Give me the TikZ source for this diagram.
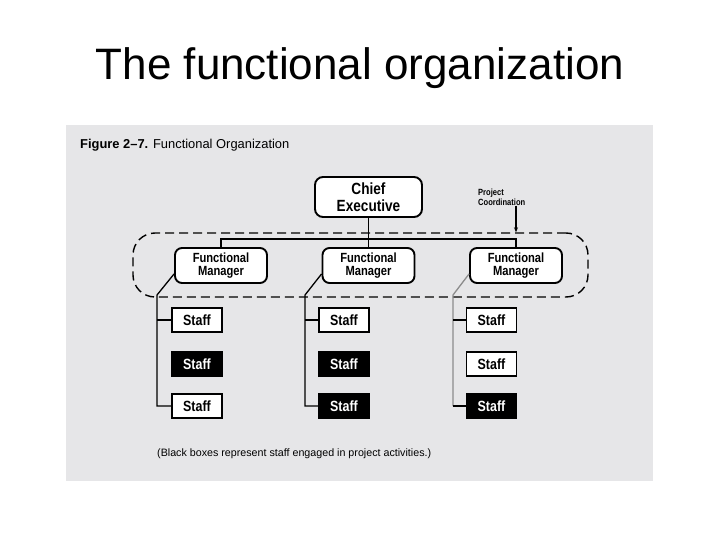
\documentclass[tikz,border=0pt]{standalone}
\usepackage{fontspec}
\setmainfont{Liberation Sans}
\newfontfamily\narrowfont[FakeStretch=0.84]{Liberation Sans}
\usetikzlibrary{arrows.meta, positioning}

\definecolor{panelgray}{RGB}{230,230,232}

\begin{document}
\begin{tikzpicture}[
    x=1pt, y=-1pt,
    every node/.style={inner sep=0pt},
    box/.style={draw, line width=1.9pt, fill=white, rounded corners=7pt, align=center, font=\narrowfont\bfseries\fontsize{13.3}{13.3}\selectfont},
    chief/.style={box, minimum width=107pt, minimum height=40pt, rounded corners=8pt, font=\narrowfont\bfseries\fontsize{16.2}{16.8}\selectfont},
    manager/.style={box, minimum width=92pt, minimum height=35pt},
    staffw/.style={draw, line width=1.9pt, fill=white, minimum width=50pt, minimum height=24pt, font=\narrowfont\bfseries\fontsize{14.8}{15}\selectfont},
    staffb/.style={staffw, fill=black, text=white},
    link/.style={line width=1.3pt},
    group/.style={draw, dashed, dash pattern=on 9pt off 5pt, line width=1.4pt, rounded corners=22pt, minimum width=455pt, minimum height=64pt}
]
% background and panel
\useasboundingbox[fill=white] (0,0) rectangle (720,540);
\fill[panelgray] (66,125) rectangle (653,481);

% texts
\node (title) at (360,68) {\fontsize{44}{44}\selectfont The functional organization};
\node[anchor=base west] (caption) at (80,149) {\fontsize{12.9}{13}\selectfont\textbf{Figure 2–7.} Functional Organization};
\node[anchor=base west] (note) at (157,456) {\fontsize{10.7}{11}\selectfont (Black boxes represent staff engaged in project activities.)};
\node[anchor=west, align=left, font=\narrowfont\bfseries\fontsize{9}{10}\selectfont] (pc) at (478,197) {Project\\Coordination};

% hierarchy
\node[chief] (ce) at (368.5,197) {Chief\\Executive};
\node[manager] (m1) at (221,265.5) {Functional\\Manager};
\node[manager] (m2) at (368.5,265.5) {Functional\\Manager};
\node[manager] (m3) at (516,265.5) {Functional\\Manager};

\node[group] (grp) at (360.5,265) {};

% staff
\node[staffw] (s11) at (197,320) {Staff};
\node[staffb] (s12) at (197,364) {Staff};
\node[staffw] (s13) at (197,406) {Staff};
\node[staffw] (s21) at (344,320) {Staff};
\node[staffb] (s22) at (344,364) {Staff};
\node[staffb] (s23) at (344,406) {Staff};
\node[staffw] (s31) at (491.5,320) {Staff};
\node[staffw] (s32) at (491.5,364) {Staff};
\node[staffb] (s33) at (491.5,406) {Staff};

\coordinate (v1) at (157,295);
\coordinate (v2) at (305,295);
\coordinate (v3) at (453,295);

% connectors
\draw[link] (ce.south) -- (m2.north);
\draw[link] (m1.north) -- ++(0,-8) -| (m3.north);
\draw[link, -{Stealth[length=5pt, width=4pt]}] (pc.south -| m3.north) -- (grp.north -| m3.north);

\draw[link] ([yshift=10pt]m1.south west) -- (v1) |- (s13.west);
\draw[link] (v1 |- s11.west) -- (s11.west);
\draw[link] ([yshift=10pt]m2.south west) -- (v2) |- (s23.west);
\draw[link] (v2 |- s21.west) -- (s21.west);
\draw[link, black!45] ([yshift=10pt]m3.south west) -- (v3) -- (v3 |- s33.west);
\draw[link] (v3 |- s33.west) -- (s33.west);
\draw[link] (v3 |- s31.west) -- (s31.west);
\end{tikzpicture}
\end{document}
